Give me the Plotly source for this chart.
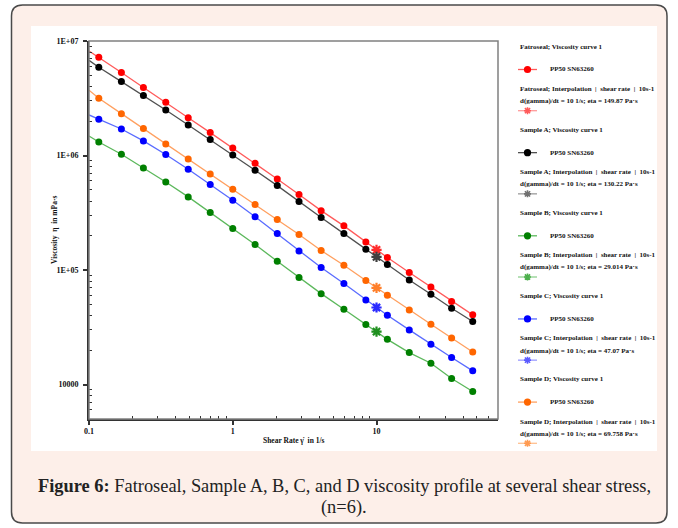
import math
import plotly.graph_objects as go

# ---------------- data ----------------
shear_rate = [0.117, 0.168, 0.239, 0.342, 0.490, 0.697, 1.0, 1.43, 2.04, 2.89,
              4.12, 5.93, 8.43, 11.9, 16.9, 23.9, 33.3, 46.7]

fatroseal = [7.21e6, 5.30e6, 3.92e6, 2.92e6, 2.14e6, 1.585e6, 1.164e6, 8.55e5, 6.24e5,
             4.56e5, 3.30e5, 2.43e5, 1.758e5, 1.285e5, 9.51e4, 7.11e4, 5.31e4, 4.06e4]
sample_a = [5.89e6, 4.42e6, 3.34e6, 2.50e6, 1.849e6, 1.378e6, 1.011e6, 7.44e5, 5.46e5,
            3.96e5, 2.87e5, 2.08e5, 1.517e5, 1.116e5, 8.19e4, 6.14e4, 4.63e4, 3.55e4]
sample_b = [1.312e6, 1.026e6, 7.78e5, 5.87e5, 4.35e5, 3.18e5, 2.30e5, 1.668e5, 1.193e5,
            8.60e4, 6.22e4, 4.54e4, 3.34e4, 2.48e4, 1.90e4, 1.534e4, 1.128e4, 8.69e3]
sample_c = [2.07e6, 1.705e6, 1.341e6, 1.019e6, 7.59e5, 5.58e5, 4.06e5, 2.92e5, 2.08e5,
            1.466e5, 1.051e5, 7.62e4, 5.48e4, 4.03e4, 3.00e4, 2.25e4, 1.722e4, 1.316e4]
sample_d = [3.16e6, 2.32e6, 1.718e6, 1.261e6, 9.33e5, 6.90e5, 5.07e5, 3.73e5, 2.76e5,
            2.04e5, 1.48e5, 1.101e5, 8.10e4, 6.03e4, 4.48e4, 3.36e4, 2.55e4, 1.926e4]

# fitted curve value at the left edge of the axis (shear rate 0.1 1/s)
curve_start_rate = 0.1
curve_start = [8.18e6, 6.78e6, 1.48e6, 2.26e6, 3.72e6]

# interpolation at 10 1/s (mPa·s)
interp_rate = 10
interp_eta = [149870, 130220, 29014, 47070, 69758]
interp_eta_text = ["149.87", "130.22", "29.014", "47.07", "69.758"]

names = ["Fatroseal", "Sample A", "Sample B", "Sample C", "Sample D"]
series = [fatroseal, sample_a, sample_b, sample_c, sample_d]

x_ticks = [0.1, 1, 10]
x_tick_text = ["0.1", "1", "10"]
y_ticks = [1e4, 1e5, 1e6, 1e7]
y_tick_text = ["10000", "1E+05", "1E+06", "1E+07"]

# ---------------- styles ----------------
marker_colors = ["#ff0000", "#000000", "#008000", "#0000ff", "#ff6600"]
line_colors = ["#ff5a5a", "#505050", "#5cb85c", "#5a6cff", "#ffa060"]
star_colors = ["#ff2a2a", "#404040", "#1f8f1f", "#2a2aff", "#ff7f2a"]
swatch2_line = ["#ff9a9a", "#9a9a9a", "#8fd08f", "#9a9aff", "#ffc090"]
swatch2_star = ["#ff5a5a", "#707070", "#4caf4c", "#5a5aff", "#ff9a50"]

W, H = 678, 528
ML, MT, MR, MB = 89, 41, 180, 109
PW, PH = W - ML - MR, H - MT - MB

SERIF = "Liberation Serif"


def px(x):
    return (x - ML) / PW


def py(y):
    return 1 - (y - MT) / PH


fig = go.Figure()

for i in range(5):
    fig.add_trace(go.Scatter(
        x=[curve_start_rate] + shear_rate, y=[curve_start[i]] + series[i],
        mode="lines", line=dict(color=line_colors[i], width=1.3),
        showlegend=False, hoverinfo="skip"))
for i in range(5):
    fig.add_trace(go.Scatter(
        x=shear_rate, y=series[i], mode="markers",
        marker=dict(color=marker_colors[i], size=7, line=dict(width=0)),
        name=names[i], showlegend=False))
for i in range(5):
    fig.add_trace(go.Scatter(
        x=[interp_rate], y=[interp_eta[i]], mode="markers",
        marker=dict(symbol="asterisk-open", size=8.5, color=star_colors[i],
                    line=dict(color=star_colors[i], width=2.2)),
        showlegend=False))

shapes = []
# outer rounded frame
L, T, R, B, r = 11.5, 5, 667, 523, 11
path = (f"M{px(L+r)},{py(T)} L{px(R-r)},{py(T)} Q{px(R)},{py(T)} {px(R)},{py(T+r)} "
        f"L{px(R)},{py(B-r)} Q{px(R)},{py(B)} {px(R-r)},{py(B)} "
        f"L{px(L+r)},{py(B)} Q{px(L)},{py(B)} {px(L)},{py(B-r)} "
        f"L{px(L)},{py(T+r)} Q{px(L)},{py(T)} {px(L+r)},{py(T)} Z")
shapes.append(dict(type="path", xref="paper", yref="paper", path=path,
                   fillcolor="#fdefe9", line=dict(color="#4a4a4a", width=1.5),
                   layer="below"))
# white panel
shapes.append(dict(type="rect", xref="paper", yref="paper",
                   x0=px(31), x1=px(657), y0=py(26), y1=py(451),
                   fillcolor="white", line=dict(width=0), layer="below"))
# plot frame (top/right)
shapes.append(dict(type="rect", xref="paper", yref="paper", x0=0, x1=1, y0=0, y1=1,
                   line=dict(color="#808080", width=1.5), layer="above"))

annotations = []
LEG_TXT = dict(family=SERIF, size=7, color="#111111", weight="bold")
blk0, step = 46.7, 83.15
for i in range(5):
    y0 = blk0 + step * i
    annotations.append(dict(x=px(517.5), y=py(y0), xref="paper", yref="paper",
                            text=f"{names[i]}; Viscosity curve 1", showarrow=False,
                            xanchor="left", yanchor="middle", font=LEG_TXT))
    ym = y0 + 22.8
    shapes.append(dict(type="line", xref="paper", yref="paper", x0=px(518), x1=px(537),
                       y0=py(ym), y1=py(ym), line=dict(color=line_colors[i], width=1.3)))
    shapes.append(dict(type="circle", xref="paper", yref="paper", xsizemode="pixel",
                       ysizemode="pixel", xanchor=px(527.5), yanchor=py(ym),
                       x0=-3.6, x1=3.6, y0=-3.6, y1=3.6,
                       fillcolor=marker_colors[i], line=dict(width=0)))
    annotations.append(dict(x=px(548), y=py(ym), xref="paper", yref="paper",
                            text="PP50 SN63260", showarrow=False,
                            xanchor="left", yanchor="middle", font=LEG_TXT))
    annotations.append(dict(x=px(517.5), y=py(y0 + 42.3), xref="paper", yref="paper",
                            text=f"{names[i]}; Interpolation  |  shear rate  |  10s-1",
                            showarrow=False, xanchor="left", yanchor="middle", font=LEG_TXT))
    annotations.append(dict(x=px(517.5), y=py(y0 + 54.4), xref="paper", yref="paper",
                            text=f"d(gamma)/dt = 10 1/s; eta = {interp_eta_text[i]} Pa·s",
                            showarrow=False, xanchor="left", yanchor="middle", font=LEG_TXT))
    ys = y0 + 64
    shapes.append(dict(type="line", xref="paper", yref="paper", x0=px(518), x1=px(537),
                       y0=py(ys), y1=py(ys), line=dict(color=swatch2_line[i], width=1.3)))
    shapes.append(dict(type="path", xref="paper", yref="paper", xsizemode="pixel",
                       ysizemode="pixel", xanchor=px(527.5), yanchor=py(ys),
                       path="M-3.5,0 L3.5,0 M0,-3.5 L0,3.5 M-2.6,-2.6 L2.6,2.6 M-2.6,2.6 L2.6,-2.6",
                       line=dict(color=swatch2_star[i], width=1.6)))

# axis titles
annotations.append(dict(x=px(294), y=py(440), xref="paper", yref="paper",
                        text="Shear Rate γ̇  in 1/s", showarrow=False,
                        xanchor="center", yanchor="middle",
                        font=dict(family=SERIF, size=7.5, color="#111", weight="bold")))
annotations.append(dict(x=px(54), y=py(230), xref="paper", yref="paper",
                        text="Viscosity  η  in mPa·s", showarrow=False, textangle=-90,
                        xanchor="center", yanchor="middle",
                        font=dict(family=SERIF, size=7.5, color="#111", weight="bold")))
# caption
CAP = dict(family=SERIF, size=18.4, color="#222222")
annotations.append(dict(x=px(344), y=py(486), xref="paper", yref="paper",
                        text="<b>Figure 6:</b> Fatroseal, Sample A, B, C, and D viscosity profile at several shear stress,",
                        showarrow=False, xanchor="center", yanchor="middle", font=CAP))
annotations.append(dict(x=px(344), y=py(508), xref="paper", yref="paper",
                        text="(n=6).", showarrow=False, xanchor="center", yanchor="middle",
                        font=CAP))

x_minor = [k * 10 ** e for e in (-1, 0, 1) for k in range(2, 10) if k * 10 ** e < 70]
y_minor = [k * 10 ** e for e in (3, 4, 5, 6) for k in range(2, 10)
           if 5000 <= k * 10 ** e < 1e7]

TICKF = dict(family=SERIF, size=8, color="#111", weight="bold")
fig.update_xaxes(type="log", range=[-1, math.log10(70)], tickmode="array",
                 tickvals=x_ticks, ticktext=x_tick_text, ticks="outside", ticklen=4,
                 tickwidth=1.5, tickcolor="#333", showline=True, linecolor="#333",
                 linewidth=2, showgrid=False, zeroline=False, tickfont=TICKF,
                 ticklabelstandoff=-1,
                 minor=dict(tickmode="array", tickvals=x_minor, ticks="inside",
                            ticklen=3, tickwidth=1.2, tickcolor="#333", showgrid=False))
fig.update_yaxes(type="log", range=[math.log10(5000), 7], tickmode="array",
                 tickvals=y_ticks, ticktext=y_tick_text, ticks="outside", ticklen=4,
                 tickwidth=1.5, tickcolor="#333", showline=True, linecolor="#333",
                 linewidth=2, showgrid=False, zeroline=False, tickfont=TICKF,
                 ticklabelstandoff=3,
                 minor=dict(tickmode="array", tickvals=y_minor, ticks="inside",
                            ticklen=3, tickwidth=1.2, tickcolor="#333", showgrid=False))

fig.update_layout(width=W, height=H, margin=dict(l=ML, r=MR, t=MT, b=MB, pad=0),
                  paper_bgcolor="white", plot_bgcolor="white",
                  shapes=shapes, annotations=annotations, showlegend=False)

fig.write_html("out.html", config={"displayModeBar": False},
               post_script="document.body.style.margin='0';document.body.style.overflow='hidden';")
